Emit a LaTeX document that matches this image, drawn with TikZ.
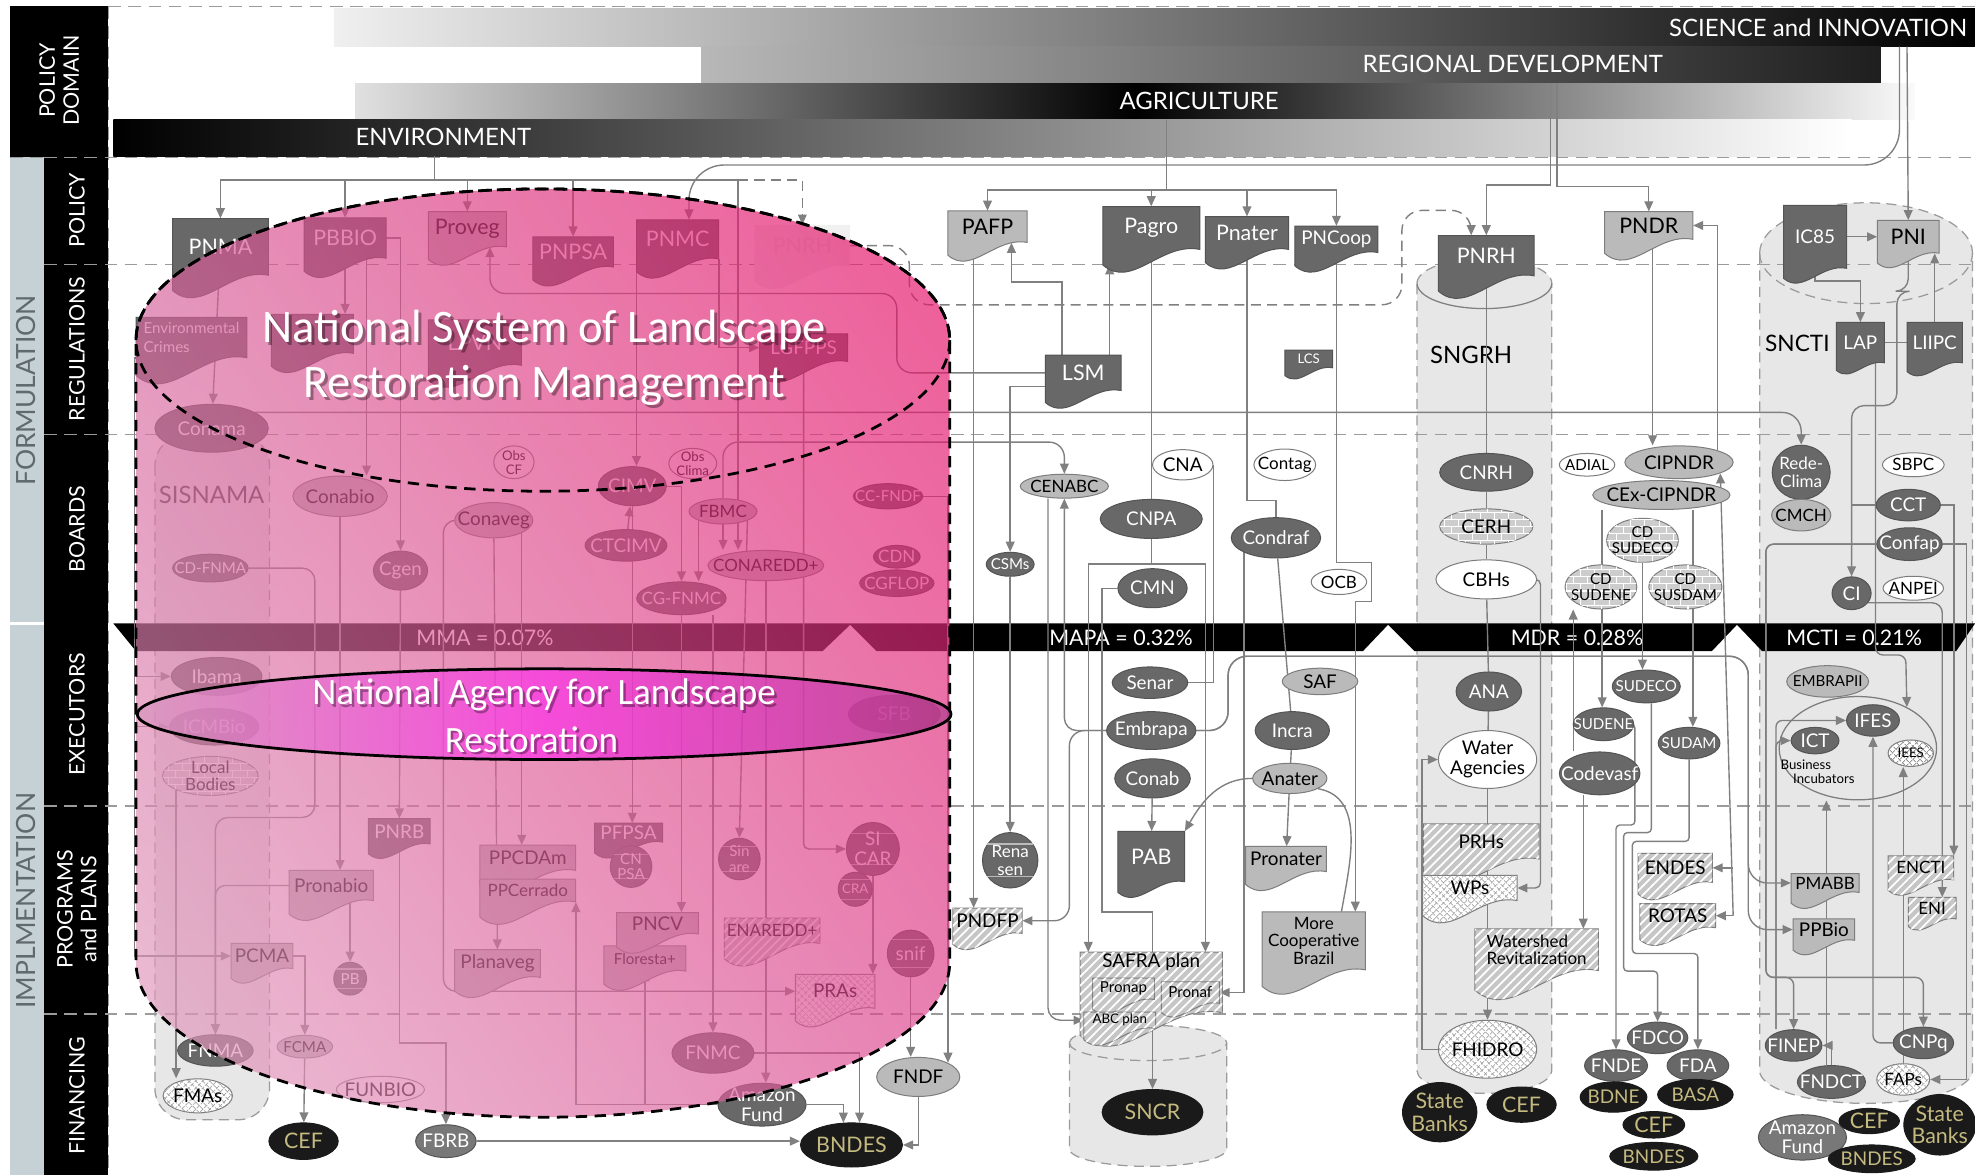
\documentclass[tikz,border=0pt]{standalone}
\usepackage{fontspec}
\setmainfont{Lato}
\newfontfamily\calib{Carlito}
\usetikzlibrary{arrows.meta,shapes.geometric,patterns,patterns.meta,shadings}
\definecolor{dkc}{RGB}{104,104,104}
\definecolor{dkb}{RGB}{84,84,84}
\definecolor{ltc}{RGB}{186,186,186}
\definecolor{ltb}{RGB}{125,125,125}
\definecolor{mdc}{RGB}{120,120,120}
\definecolor{bkc}{RGB}{26,26,26}
\definecolor{khk}{RGB}{196,186,128}
\definecolor{lnc}{RGB}{128,128,128}
\definecolor{cylc}{RGB}{231,231,231}
\definecolor{rowc}{RGB}{155,155,155}
\definecolor{stripc}{RGB}{197,209,213}
\definecolor{hatc}{RGB}{198,198,198}
\definecolor{chkc}{RGB}{150,150,150}
\definecolor{brkc}{RGB}{205,205,205}
\definecolor{txg}{RGB}{95,105,110}
\definecolor{pkUL}{RGB}{214,93,152}
\definecolor{pkUR}{RGB}{232,10,100}
\definecolor{pkLL}{RGB}{226,163,194}
\definecolor{pkLR}{RGB}{220,71,143}
\definecolor{agL}{RGB}{215,150,190}
\definecolor{agM}{RGB}{252,50,232}
\definecolor{agR}{RGB}{180,65,145}
\newcommand\fnA{\fontsize{15}{15.5}\selectfont}
\newcommand\fnB{\fontsize{17}{18}\selectfont}
\newcommand\fnM{\fontsize{13.5}{14}\selectfont}
\newcommand\fnS{\fontsize{12}{12.5}\selectfont}
\newcommand\fnT{\fontsize{10.5}{11}\selectfont}
\pgfdeclarelayer{bg}\pgfdeclarelayer{conn}\pgfdeclarelayer{over}
\pgfsetlayers{bg,conn,main,over}
\tikzset{
 lab/.style={inner sep=0pt,align=center,font=\fnA},
 tw/.style={text=white}, tb/.style={text=black}, tk/.style={text=khk},
 tfade/.style={text=black!12},
 sdk/.style={fill=dkc,draw=dkb,line width=0.8pt},
 slt/.style={fill=ltc,draw=ltb,line width=0.8pt},
 smd/.style={fill=mdc,draw=dkb,line width=0.8pt},
 swt/.style={fill=white,draw=ltb,line width=0.8pt},
 sbk/.style={fill=bkc,draw=bkc,line width=0.8pt},
 sfade/.style={fill=black!6},
 shat/.style={fill=hatc,draw=ltb,line width=0.8pt,postaction={pattern={Lines[angle=45,distance=5pt,line width=1.4pt]},pattern color=white}},
 schk/.style={fill=white,draw=ltb,line width=0.8pt,postaction={pattern={Lines[angle=45,distance=4pt,line width=0.7pt]},pattern color=chkc},postaction={pattern={Lines[angle=-45,distance=4pt,line width=0.7pt]},pattern color=chkc}},
 sbrk/.style={fill=brkc,draw=ltb,line width=0.8pt,postaction={pattern=bricks,pattern color=white}},
 ln/.style={draw=lnc,line width=1.1pt},
 arr/.style={ln,-{Triangle[length=8pt,width=7pt]}},
 darr/.style={arr,dash pattern=on 8pt off 5pt},
 rowl/.style={draw=rowc,line width=1pt,dash pattern=on 10pt off 6pt},
 cyl/.style={fill=cylc,draw=rowc,line width=1pt,dash pattern=on 8pt off 5pt},
 cline/.style={draw=white!55!dkc,line width=1pt},
 btxt/.style={text=white,font=\fontsize{19}{19}\selectfont,inner sep=0pt},
 rtxt/.style={rotate=90,text=white,font=\fontsize{17}{19}\selectfont,align=center,inner sep=0pt},
}
\newcommand\mkD[8]{%
 \path[#1] (#4-#6/2,#5-#7/2) -- (#4+#6/2,#5-#7/2) -- (#4+#6/2,#5+#7/2) .. controls (#4+#6*0.1,#5+#7/2-#6*0.08) and (#4-#6*0.2,#5+#7/2+#6*0.42) .. (#4-#6/2,#5+#7/2+#6*0.16) -- cycle;
 \node[inner sep=0pt,minimum width=#6,minimum height=#7] (#3) at (#4,#5) {};
 \node[lab,#2] at (#4,#5) {#8};}
\newcommand\mkE[7]{%
 \node[ellipse,inner sep=0pt,#1,minimum width=#5,minimum height=#6] (#3) at (#4) {};
 \node[lab,#2] at (#3.center) {#7};}
\newcommand\mkC[6]{%
 \node[circle,inner sep=0pt,#1,minimum size=#5] (#3) at (#4) {};
 \draw[cline] (#3.145) -- (#3.35) (#3.215) -- (#3.325);
 \node[lab,#2] at (#3.center) {#6};}
\newcommand\mkCyl[7]{%
 \path[#1] (#2-#3,#4) .. controls (#2-#3,#4-0.552*#5) and (#2-0.552*#3,#4-#5) .. (#2,#4-#5) .. controls (#2+0.552*#3,#4-#5) and (#2+#3,#4-0.552*#5) .. (#2+#3,#4) -- (#2+#3,#6) .. controls (#2+#3,#6+0.552*#7) and (#2+0.552*#3,#6+#7) .. (#2,#6+#7) .. controls (#2-0.552*#3,#6+#7) and (#2-#3,#6+0.552*#7) .. (#2-#3,#6) -- cycle;}
\newcommand\mkFront[5]{%
 \path[#1] (#2-#3,#4) .. controls (#2-#3,#4+0.552*#5) and (#2-0.552*#3,#4+#5) .. (#2,#4+#5) .. controls (#2+0.552*#3,#4+#5) and (#2+#3,#4+0.552*#5) .. (#2+#3,#4);}
\begin{document}
\begin{tikzpicture}[x=1pt,y=-1pt]
\useasboundingbox (0,0) rectangle (1568,933);
\begin{pgfonlayer}{bg}
\fill[white] (0,0) rectangle (1568,933);
\fill[stripc] (8,125) rectangle (35,933);
\fill[black] (8,5) rectangle (86,125);
\fill[black] (35,125) rectangle (86,933);
\draw[white,line width=2pt] (8,495) -- (35,495);
\shade[left color=black!6,right color=black] (265,7) rectangle (1568,37);
\shade[left color=black!28,right color=black!88] (557,37) rectangle (1493,66);
\shade[left color=black!12,right color=black!2,middle color=black] (282,66) rectangle (1520,95);
\shade[left color=black,right color=white] (90,95) rectangle (1470,124);
\node[btxt,anchor=east] at (1562,22) {SCIENCE and INNOVATION};
\node[btxt] at (1201,51) {REGIONAL DEVELOPMENT};
\node[btxt] at (952,80) {AGRICULTURE};
\node[btxt] at (352,109) {ENVIRONMENT};
\path[cyl,rounded corners=25] (123,345) rectangle (214,889);
\mkCyl{cyl}{1178.5}{53.5}{225}{20}{850}{18}
\mkFront{draw=lnc,line width=1pt}{1178.5}{53.5}{225}{20}
\mkCyl{cyl}{1481.5}{84.5}{201}{40}{850}{26}
\mkFront{draw=rowc,line width=1pt,dash pattern=on 8pt off 5pt}{1481.5}{84.5}{201}{40}
\mkCyl{cyl}{911.5}{62.5}{828}{14}{912}{14}
\mkFront{draw=rowc,line width=1pt,dash pattern=on 8pt off 5pt}{911.5}{62.5}{828}{14}
\foreach \yy in {125,210,345,640,805} \draw[rowl] (35,\yy) -- (1568,\yy);
\draw[rowl] (86,5) -- (1568,5);
\draw[rowl] (86,5) -- (86,933);
\draw[rowl] (8,125) -- (35,125);
\node[rtxt] at (47,64) {POLICY\\DOMAIN};
\node[rtxt] at (61,167) {POLICY};
\node[rtxt] at (61,277) {REGULATIONS};
\node[rtxt] at (61,420) {BOARDS};
\node[rtxt] at (61,567) {EXECUTORS};
\node[rtxt] at (61,722) {PROGRAMS\\and PLANS};
\node[rtxt] at (61,870) {FINANCING};
\node[rotate=90,text=txg,font=\fontsize{21}{21}\selectfont,inner sep=0pt] at (21,310) {FORMULATION};
\node[rotate=90,text=txg,font=\fontsize{21}{21}\selectfont,inner sep=0pt] at (21,715) {IMPLMENTATION};
\fill[black] (90,495) -- (1568,495) -- (1553,517) -- (1399,517) -- (1379,496) -- (1359,517) -- (1123,517) -- (1102,496) -- (1082,517) -- (696,517) -- (675,496) -- (653,517) -- (108,517) -- cycle;
\node[btxt,font=\fontsize{17}{17}\selectfont] at (385,506) {MMA = 0.07\%};
\node[btxt,font=\fontsize{17}{17}\selectfont] at (890,506) {MAPA = 0.32\%};
\node[btxt,font=\fontsize{17}{17}\selectfont] at (1252,506) {MDR = 0.28\%};
\node[btxt,font=\fontsize{17}{17}\selectfont] at (1472,506) {MCTI = 0.21\%};
\node[text=black!75,font=\fontsize{19}{19}\selectfont] at (168,393) {SISNAMA};
\node[text=black,font=\fontsize{19}{19}\selectfont] at (1168,282) {SNGRH};
\node[text=black,font=\fontsize{18}{18}\selectfont] at (1427,273) {SNCTI};
\end{pgfonlayer}
% policy
\mkD{sdk}{tw}{PNMA}{175}{196}{76}{45}{\fnB PNMA}
\mkD{sdk}{tw}{PBBIO}{274}{189}{65}{32}{\fnB PBBIO}
\mkD{slt}{tb}{Proveg}{371}{182}{62}{28}{\fnB Proveg}
\mkD{sdk}{tw}{PNPSA}{455}{200}{64}{24}{\fnB PNPSA}
\mkD{sdk}{tw}{PNMC}{538}{190}{65}{31}{\fnB PNMC}
\mkD{sfade}{tfade}{PNRHf}{637}{195}{76}{33}{\fnB PNRH}
\mkD{slt}{tb}{PAFP}{784}{180}{63}{25}{\fnB PAFP}
\mkD{sdk}{tw}{Pagro}{914}{181}{77}{34}{\fnB Pagro}
\mkD{sdk}{tw}{Pnater}{990}{185}{66}{26}{\fnB Pnater}
\mkD{sdk}{tw}{PNCoop}{1061}{190}{66}{21}{\fnA PNCoop}
\mkD{sdk}{tw}{PNRH}{1180}{203}{76}{32}{\fnB PNRH}
\mkD{slt}{tb}{PNDR}{1309}{179}{70}{22}{\fnB PNDR}
\mkD{sdk}{tw}{IC85}{1441}{188}{50}{50}{\fnA IC85}
\mkD{slt}{tb}{PNI}{1515}{188}{49}{26}{\fnB PNI}
% regulations
\mkD{sdk}{tw,align=left}{EnvCr}{152}{268}{88}{32}{\fnS Environmental\\\fnS Crimes}
\mkD{sdk}{tw}{Hid}{248}{265}{65}{31}{}
\mkD{sdk}{tw}{LPVN}{377}{272}{74}{36}{\fnB LPVN}
\mkD{sdk}{tw}{LGFPPS}{638}{276}{70}{22}{\fnA LGFPPS}
\mkD{sdk}{tw}{LSM}{860}{296}{60}{28}{\fnB LSM}
\mkD{sdk}{tw}{LCS}{1039}{285}{38}{14}{\fnT LCS}
\mkD{sdk}{tw}{LAP}{1477}{272}{38}{32}{\fnA LAP}
\mkD{sdk}{tw}{LIIPC}{1536}{272}{44}{32}{\fnA LIIPC}
% boards
\mkE{sdk}{tw}{Conama}{168,340}{90}{38}{Conama}
\mkE{slt}{tb}{Conabio}{270,394}{75}{32}{Conabio}
\mkE{swt}{tb,font=\fnT}{ObsCF}{408,367}{32}{26}{Obs\\CF}
\mkE{slt}{tb}{Conaveg}{392,413}{62}{28}{Conaveg}
\mkE{sdk}{tw}{CIMV}{502,386}{54}{31}{CIMV}
\mkE{swt}{tb,font=\fnT}{ObsClima}{550,368}{38}{24}{Obs\\Clima}
\mkE{slt}{tb,font=\fnM}{FBMC}{574,406}{54}{20}{FBMC}
\mkE{sdk}{tw}{CTCIMV}{497,433}{65}{25}{CTCIMV}
\mkE{slt}{tb,font=\fnM}{CONAREDD}{608,449}{92}{24}{CONAREDD+}
\mkE{sdk}{tw,font=\fnM}{CGFNMC}{541,475}{71}{26}{CG-FNMC}
\mkE{sdk}{tw,font=\fnS}{CCFNDF}{705,394}{55}{20}{CC-FNDF}
\mkE{sdk}{tw,font=\fnM}{CDN}{712,442}{37}{18}{CDN}
\mkE{sdk}{tw,font=\fnM}{CGFLOP}{712,463}{59}{21}{CGFLOP}
\mkE{sdk}{tw}{Cgen}{318,453}{43}{31}{Cgen}
\mkE{sdk}{tw,font=\fnS}{CDFNMA}{167,451}{60}{22}{CD-FNMA}
\mkE{slt}{tb,font=\fnM}{CENABC}{845,386}{70}{19}{CENABC}
\mkE{swt}{tb}{CNA}{939,369}{48}{24}{CNA}
\mkE{swt}{tb,font=\fnM}{Contag}{1020,369}{49}{25}{Contag}
\mkE{sdk}{tw}{CNPA}{914,412}{81}{31}{CNPA}
\mkE{sdk}{tw}{Condraf}{1013,427}{71}{32}{Condraf}
\mkE{sdk}{tw,font=\fnS}{CSMs}{802,448}{38}{19}{CSMs}
\mkE{sdk}{tw}{CMN}{915,467}{55}{31}{CMN}
\mkE{swt}{tb,font=\fnM}{OCB}{1063,462}{44}{20}{OCB}
\mkE{sdk}{tw}{CNRH}{1180,375}{74}{30}{CNRH}
\mkE{sbrk}{tb}{CERH}{1180,418}{74}{28}{CERH}
\mkE{swt}{tb}{CBHs}{1180,460}{80}{31}{CBHs}
\mkE{swt}{tb,font=\fnS}{ADIAL}{1260,369}{44}{18}{ADIAL}
\mkE{slt}{tb}{CIPNDR}{1333,367}{86}{26}{CIPNDR}
\mkE{slt}{tb}{CExCIPNDR}{1319,393}{109}{23}{CEx-CIPNDR}
\mkE{sbrk}{tb,font=\fnS}{CDSUDECO}{1304,429}{57}{35}{CD\\SUDECO}
\mkE{sbrk}{tb,font=\fnS}{CDSUDENE}{1271,466}{57}{35}{CD\\SUDENE}
\mkE{sbrk}{tb,font=\fnS}{CDSUSDAM}{1338,466}{58}{35}{CD\\SUSDAM}
\mkE{sdk}{tw,font=\fnM}{RedeClima}{1430,375}{46}{43}{Rede-\\Clima}
\mkE{slt}{tb,font=\fnM}{CMCH}{1430,409}{47}{25}{CMCH}
\mkE{swt}{tb,font=\fnM}{SBPC}{1519,369}{49}{19}{SBPC}
\mkE{sdk}{tw}{CCT}{1515,401}{51}{25}{CCT}
\mkE{sdk}{tw}{Confap}{1516,432}{52}{26}{Confap}
\mkE{sdk}{tw}{CI}{1470,471}{31}{26}{CI}
\mkE{swt}{tb,font=\fnM}{ANPEI}{1519,467}{48}{19}{ANPEI}
% executors
\mkE{sdk}{tw}{Ibama}{172,537}{72}{30}{Ibama}
\mkE{sdk}{tw}{ICMBio}{170,577}{71}{29}{ICMBio}
\mkE{sbrk}{tb,font=\fnM}{LocalB}{167,616}{76}{31}{Local\\Bodies}
\mkE{sdk}{tw}{SFB}{710,567}{73}{30}{SFB}
\mkE{sdk}{tw}{Senar}{913,542}{60}{25}{Senar}
\mkE{sdk}{tw}{Embrapa}{914,580}{71}{30}{Embrapa}
\mkE{sdk}{tw}{Conab}{915,618}{60}{31}{Conab}
\mkE{slt}{tb}{SAF}{1048,541}{60}{21}{SAF}
\mkE{sdk}{tw}{Incra}{1026,580}{59}{30}{Incra}
\mkE{slt}{tb}{Anater}{1024,618}{59}{24}{Anater}
\mkE{sdk}{tw}{ANA}{1182,549}{52}{31}{ANA}
\mkE{swt}{tb}{WaterAg}{1181,603}{78}{46}{Water\\Agencies}
\mkE{sdk}{tw,font=\fnS}{SUDECO}{1307,545}{54}{26}{SUDECO}
\mkE{sdk}{tw,font=\fnS}{SUDENE}{1273,575}{48}{26}{SUDENE}
\mkE{sdk}{tw,font=\fnS}{SUDAM}{1341,590}{49}{25}{SUDAM}
\mkE{sdk}{tw}{Codevasf}{1270,614}{64}{34}{Codevasf}
\mkE{slt}{tb,font=\fnS}{EMBRAPII}{1451,541}{65}{25}{EMBRAPII}
\node[ellipse,draw=ltb,line width=1pt,minimum width=125,minimum height=82,inner sep=0pt] (Incub) at (1475,594) {};
\mkE{sdk}{tw}{ICT}{1441,588}{38}{21}{ICT}
\mkE{sdk}{tw}{IFES}{1487,572}{42}{25}{IFES}
\mkE{schk}{tb,font=\fnT}{IEES}{1517,598}{36}{21}{IEES}
\node[lab,tb,font=\fnT,align=left] (BusInc) at (1443,613) {Business\\\hspace*{10pt}Incubators};
% programs and plans
\mkD{sdk}{tw}{PNRB}{317}{660}{49}{20}{PNRB}
\mkD{slt}{tb}{Pronabio}{263}{703}{67}{24}{Pronabio}
\mkD{slt}{tb}{PCMA}{208}{759}{49}{20}{PCMA}
\mkC{sdk}{tw,font=\fnS}{PB}{278,777}{26}{PB}
\mkD{slt}{tb}{Planaveg}{395}{765}{68}{22}{Planaveg}
\mkD{slt}{tb}{PPCDAm}{419}{681}{76}{20}{PPCDAm}
\mkD{slt}{tb,font=\fnM}{PPCerrado}{419}{707}{76}{18}{PPCerrado}
\mkD{sdk}{tw}{PFPSA}{499}{661}{54}{15}{PFPSA}
\mkC{sdk}{tw,font=\fnS}{CNPSA}{501,688}{33}{CN\\PSA}
\mkD{slt}{tb,font=\fnS}{Floresta}{512}{761}{65}{20}{Floresta+}
\mkD{slt}{tb}{PNCV}{522}{733}{65}{17}{PNCV}
\mkC{sdk}{tw,font=\fnS}{Sinare}{587,682}{33}{Sin\\are}
\mkD{shat}{tb,font=\fnM}{ENAREDD}{613}{739}{76}{20}{ENAREDD+}
\mkC{sdk}{tw}{SICAR}{693,674}{42}{SI\\CAR}
\mkC{sdk}{tw,font=\fnT}{CRA}{679,706}{27}{CRA}
\mkC{sdk}{tw}{snif}{723,757}{37}{snif}
\mkD{schk}{tb}{PRAs}{663}{787}{63}{27}{PRAs}
\mkD{shat}{tb}{PNDFP}{784}{731}{55}{20}{PNDFP}
\mkC{sdk}{tw,font=\fnM}{Renasen}{802,683}{44}{Rena\\sen}
\mkD{sdk}{tw}{PAB}{914}{680}{53}{40}{\fnB PAB}
\mkD{slt}{tb}{Pronater}{1021}{682}{64}{20}{Pronater}
\mkD{slt}{tb,font=\fnM}{MoreCoop}{1043}{747}{82}{46}{More\\Cooperative\\Brazil}
\mkD{shat}{tb}{SAFRA}{914}{780}{113}{48}{}
\node[lab,tb] at (914,764) {SAFRA plan};
\mkD{shat}{tb,font=\fnS}{Pronap}{892}{785}{49}{17}{Pronap}
\mkD{shat}{tb,font=\fnS}{Pronaf}{945}{788}{46}{17}{Pronaf}
\mkD{shat}{tb,font=\fnT}{ABC}{889}{810}{57}{13}{ABC plan}
\mkD{shat}{tb}{PRHs}{1176}{668}{92}{28}{PRHs}
\mkD{schk}{tb}{WPs}{1167}{705}{75}{20}{WPs}
\mkD{shat}{tb,font=\fnM,align=left}{Watershed}{1220}{754}{98}{33}{Watershed\\Revitalization}
\mkD{shat}{tb}{ENDES}{1330}{689}{59}{23}{ENDES}
\mkD{shat}{tb}{ROTAS}{1332}{727}{60}{19}{ROTAS}
\mkD{slt}{tb,font=\fnM}{PMABB}{1449}{701}{54}{15}{PMABB}
\mkD{slt}{tb}{PPBio}{1448}{738}{49}{17}{PPBio}
\mkD{shat}{tb,font=\fnM}{ENCTI}{1525}{689}{52}{19}{ENCTI}
\mkD{shat}{tb,font=\fnM}{ENI}{1534}{721}{38}{17}{ENI}
% financing
\mkE{sdk}{tw}{FNMA}{171,834}{60}{25}{FNMA}
\mkE{schk}{tb}{FMAs}{157,870}{55}{27}{FMAs}
\mkE{slt}{tb,font=\fnS}{FCMA}{242,831}{44}{18}{FCMA}
\mkE{swt}{tb}{FUNBIO}{302,865}{70}{21}{FUNBIO}
\mkE{sbk}{tk,font=\fnB}{CEFa}{241,906}{55}{29}{CEF}
\mkE{smd}{tw}{FBRB}{354,906}{48}{26}{FBRB}
\mkE{sdk}{tw}{FNMC}{566,836}{65}{32}{FNMC}
\mkE{sdk}{tw}{AmazonF}{605,877}{70}{34}{Amazon\\Fund}
\mkE{slt}{tb}{FNDF}{729,855}{66}{31}{FNDF}
\mkE{sbk}{tk,font=\fnB}{BNDESa}{676,909}{81}{35}{BNDES}
\mkE{sbk}{tk,font=\fnB}{SNCR}{915,883}{80}{36}{SNCR}
\mkE{schk}{tb}{FHIDRO}{1181,833}{78}{46}{FHIDRO}
\mkE{sbk}{tk,font=\fnB}{StateBa}{1143,883}{59}{47}{State\\Banks}
\mkE{sbk}{tk,font=\fnB}{CEFb}{1208,877}{55}{28}{CEF}
\mkE{sdk}{tw}{FDCO}{1316,824}{48}{25}{FDCO}
\mkE{sdk}{tw}{FNDE}{1283,846}{50}{25}{FNDE}
\mkE{sdk}{tw}{FDA}{1348,846}{49}{25}{FDA}
\mkE{sbk}{tk}{BDNE}{1281,871}{53}{24}{BDNE}
\mkE{sbk}{tk}{BASA}{1346,869}{60}{24}{BASA}
\mkE{sbk}{tk,font=\fnB}{CEFc}{1313,893}{49}{21}{CEF}
\mkE{sbk}{tk}{BNDESb}{1313,918}{70}{22}{BNDES}
\mkE{sdk}{tw}{FINEP}{1424,830}{45}{25}{FINEP}
\mkE{sdk}{tw}{FNDCT}{1454,859}{54}{26}{FNDCT}
\mkE{sdk}{tw}{CNPq}{1527,828}{48}{25}{CNPq}
\mkE{schk}{tb,font=\fnM}{FAPs}{1511,857}{42}{25}{FAPs}
\mkE{smd}{tw}{AmazonFb}{1431,903}{70}{36}{Amazon\\Fund}
\mkE{sbk}{tk,font=\fnB}{CEFd}{1484,890}{48}{20}{CEF}
\mkE{sbk}{tk,font=\fnB}{StateBb}{1540,893}{57}{48}{State\\Banks}
\mkE{sbk}{tk}{BNDESc}{1486,920}{69}{22}{BNDES}
\begin{pgfonlayer}{conn}
\coordinate (ENVb) at (345,124);
\coordinate (AGRb) at (926,95);
\coordinate (REGa) at (1231,66);
\coordinate (REGb) at (1236,66);
\coordinate (SCIa) at (1514,37);
\coordinate (SCIb) at (1508,37);
\coordinate (envD) at (586,143);
\foreach \nn in {PNMA,PBBIO,Proveg,PNPSA} \draw[arr] (ENVb) -- ++(0,19) -| (\nn.north);
\draw[ln] (ENVb) -- ++(0,19) -- (envD);
\draw[darr] (envD) -| (PNRHf.north);
\draw[arr] (envD) -- (586,0 |- CONAREDD.north);
\foreach \nn in {PAFP,Pagro,Pnater,PNCoop} \draw[arr] (AGRb) -- ++(0,56) -| (\nn.north);
\draw[arr] (REGa) -- ++(0,81) -| (PNRH.north);
\draw[arr] (REGb) -- ++(0,82) -| (PNDR.north);
\draw[arr] (SCIa) -- (PNI.north);
\draw[arr,rounded corners=28] (SCIb) -- (1508,131) -- (547,131) -- (547,0 |- PNMC.north);
\draw[darr,rounded corners=16] (PNRHf.east) -- (722,195) -- (722,242) -- (1113,242) -- (1113,167) -- (1168,167) -- (1168,0 |- PNRH.north);
\draw[arr] (PNMA) -- (Conama);
\draw[arr] (PBBIO.south) -- (PBBIO.south |- Hid.north);
\draw[arr] (291,0 |- PBBIO.south) -- (291,0 |- Conabio.north);
\draw[arr] (PBBIO.east) -| (Cgen.north);
\draw[arr] (Conabio.south) -- (Conabio.south |- Pronabio.north);
\draw[arr] (Cgen) -- (PNRB);
\draw[arr] (PNRB.south) -- ++(0,158) -| (FBRB.north);
\draw[arr] (PB.north |- Pronabio.south) -- (PB.north);
\draw[arr,rounded corners=8] (Pronabio.west) -| (FNMA.north);
\draw[arr,rounded corners=10] (CDFNMA.east) -| (250,649) -| (FNMA.north);
\draw[arr] (EnvCr.south west) -- ++(-1,0) |- (PCMA.west);
\draw[arr] (Ibama.west -| EnvCr.south west) -- (Ibama.west);
\draw[arr] (ICMBio.west -| EnvCr.south west) -- (ICMBio.west);
\draw[arr] (LocalB.south west) -- (LocalB.south west |- FMAs.north);
\draw[arr] (PCMA.east) -| (FCMA.north);
\draw[arr] (FCMA) -- (CEFa);
\draw[arr] (FBRB.east) -- (FBRB.east -| BNDESa.west);
\draw[arr] (Conaveg) -- (Planaveg);
\draw[arr,rounded corners=10] (Conaveg.west) -| (352,787) -- (PRAs.west);
\draw[arr] (Conaveg.south east) -- (Conaveg.south east |- PPCDAm.north);
\draw[arr] (AmazonF.west) -| (PPCerrado.south east);
\draw[arr] (AmazonF.west) -| (Floresta.south);
\draw[arr] (FNMC.east) -| (BNDESa.70);
\draw[arr] (AmazonF.east) -| (BNDESa.110);
\draw[arr] (FNDF.south) |- (BNDESa.east);
\draw[arr] (snif) -- (snif |- FNDF.north);
\draw[arr] (CCFNDF.east) -| (FNDF.north east);
\draw[arr] (SICAR.south) -- (SICAR.south |- PRAs.north);
\draw[arr,rounded corners=4] (LGFPPS.south) |- (SICAR.west);
\draw[arr] (FBMC.south east) -- (Sinare.north);
\draw[arr] (CONAREDD.south) -- (CONAREDD.south |- AmazonF.north);
\draw[arr] (FNMC.north |- CGFNMC.south) -- (FNMC.north);
\draw[arr] (CIMV.south) -- (CIMV.south |- PFPSA.north);
\draw[arr] (CGFNMC) -- (CGFNMC |- PNCV.north);
\draw[arr] (CTCIMV) -- (CIMV);
\draw[arr] (CIMV.east) -| (CGFNMC.north);
\draw[arr] (FBMC.south west) -- (FBMC.south west |- CGFNMC.north);
\draw[arr] (FBMC) -- (FBMC |- CONAREDD.north);
\draw[arr] (PNMC.south west) -- (PNMC.south west |- CIMV.north);
\draw[arr] (PNMC.south east) |- (LGFPPS.west);
\draw[arr,rounded corners=15] (Conama.20) -| (RedeClima.north);
\draw[arr,rounded corners=12] (FBMC.north) |- (CENABC.north |- 0,351) -- (CENABC.north);
\draw[arr] (881,0 |- LSM.north) -- ++(0,-72);
\draw[arr] (843,0 |- LSM.north) |- (803,224) -- (803,0 |- PAFP.south);
\draw[arr,rounded corners=12] (LSM.west) -| (712,233) -| (389,0 |- Proveg.south);
\draw[arr] (LSM.200) -| (CSMs.north);
\draw[arr] (CSMs) -- (Renasen);
\draw[arr] (773,0 |- PAFP.south) -- (773,0 |- PNDFP.north);
\draw[ln] (Pagro.south) -- (CNPA.north);
\draw[ln] (Pnater.south) -- ++(0,199) -| (Condraf.north);
\draw[arr] (PNCoop.south) -- ++(0,246) -- ++(28,0) -- ++(0,31) -- ++(-13,0) -- (1076,0 |- MoreCoop.north);
\draw[ln] (CNA.east) |- (Senar.east);
\draw[arr] (CNPA.south) -- ++(0,20) -| (864,0 |- SAFRA.north);
\draw[arr] (CNPA.south) -- ++(0,20) -| (957,0 |- SAFRA.north);
\draw[arr] (CMN.west) -| (875,724) -| (SNCR.north);
\draw[arr] (Conab) -- (PAB);
\draw[arr,rounded corners=10] (Embrapa.west) -| (CENABC.south);
\draw[arr,rounded corners=10] (832,0 |- CENABC.south) |- (ABC.west);
\draw[arr,rounded corners=12] (Embrapa.west) -| (849,731) -- (PNDFP.east);
\draw[arr,rounded corners=15] (Embrapa.east) -| (975,521) -- (1388,521) |- (PMABB.west);
\draw[arr,rounded corners=15] (Embrapa.east) -| (975,521) -- (1388,521) |- (PPBio.west);
\draw[arr] (Anater.west) to[out=180,in=60] (PAB.north east);
\draw[ln] (Anater.-20) to[out=-10,in=80] ([xshift=22pt]MoreCoop.north);
\draw[arr] (Anater) -- (Pronater);
\draw[ln] (Condraf) -- (Incra);
\draw[ln] (Incra) -- (Anater);
\draw[arr] (Condraf.south west) |- (Pronaf.east);
\draw[ln] (PNRH) -- (CNRH);
\draw[ln] (CNRH) -- (CERH);
\draw[ln] (CERH) -- (CBHs);
\draw[ln] (CBHs) -- (ANA);
\draw[ln] (ANA) -- (WaterAg);
\draw[arr] (WaterAg) -- (WaterAg |- FHIDRO.north);
\draw[arr] (FHIDRO.west) -| (1129,0 |- WaterAg.west) -- (WaterAg.west);
\draw[arr,rounded corners=4] (CBHs.east) -| (1223,0 |- WPs.east) -- (WPs.east);
\draw[arr] (1257,0 |- Codevasf.south) -- (1257,0 |- Watershed.north);
\draw[arr] (1249,0 |- Codevasf.north) -- (1249,0 |- CDSUDENE.south);
\draw[arr] (1312,0 |- PNDR.south) -- (1312,0 |- CIPNDR.north);
\draw[arr] (CIPNDR.north east) |- (PNDR.east);
\draw[arr] (1376,0 |- ROTAS.east) -- (CIPNDR.-15);
\draw[arr] (1376,0 |- ENDES.east) -- (ENDES.east);
\draw[arr] (1376,0 |- ROTAS.east) -- (ROTAS.east);
\draw[arr] (1272,0 |- CExCIPNDR.south) -- (1272,0 |- SUDENE.north);
\draw[arr] (CDSUDECO) -- (CDSUDECO |- SUDECO.north);
\draw[arr] (1344,0 |- CExCIPNDR.south) -- (1344,0 |- SUDAM.north);
\draw[arr,rounded corners=3] (SUDENE.east) -| (1298,655) -| (FNDE.north);
\draw[arr,rounded corners=3] (1311,0 |- SUDECO.south) |- (1289,661) |- (1316,771) -- (FDCO.north);
\draw[arr,rounded corners=3] (SUDAM.south) |- (1296,668) |- (1348,757) -- (FDA.north);
\draw[arr] (IC85.east) -- (IC85.east -| PNI.west);
\draw[arr] (IC85.south) -- ++(0,10) -| (LAP.north);
\draw[arr] (LIIPC.north) -- (LIIPC.north |- PNI.south);
\draw[ln] (LAP.east) -- (LIIPC.west);
\draw[arr,rounded corners=10] (PNI.south) -- ++(0,30) -| (1506,322) -| (CI.north);
\draw[ln] (CCT.west) -- (CCT.west -| CI.north);
\draw[arr,rounded corners=6] (1489,0 |- LAP.south) |- (1513,520) -- (Incub.40);
\draw[arr] (CCT.east) -| (ENCTI.north east);
\draw[arr,rounded corners=8] (CI.-30) -| (1542,0 |- ENI.north);
\draw[arr] (Confap.east) -| (1561,857) -- (FAPs.east);
\draw[arr,rounded corners=6] (Confap.west) -| (1402,776) -| (FINEP.north);
\draw[arr,rounded corners=6] (Confap.west) -| (1402,776) -| (CNPq.north);
\draw[arr] (FNDCT.north) |- (FINEP.east);
\draw[arr,rounded corners=6] (CNPq.west) -| (IFES.south);
\draw[arr,rounded corners=5] (1410,0 |- FINEP.north) |- (ICT.west);
\draw[arr,rounded corners=5] (1410,0 |- FINEP.north) |- (IFES.west);
\draw[arr] (1450,0 |- FNDCT.north) -- (1450,0 |- Incub.south);
\draw[arr] (FAPs.north) -- (FAPs.north |- IEES.south);
\end{pgfonlayer}
\begin{pgfonlayer}{over}
\shade[upper left=pkUL,upper right=pkUR,lower left=pkLL,lower right=pkLR,fill opacity=0.67]
 (108,270) .. controls (108,203.76) and (252.7,150) .. (431,150) .. controls (609.3,150) and (754,203.76) .. (754,270) -- (754,764) .. controls (754,831.9) and (609.3,887) .. (431,887) .. controls (252.7,887) and (108,831.9) .. (108,764) -- cycle;
\draw[black,line width=2.2pt,dash pattern=on 9pt off 6pt]
 (108,270) .. controls (108,203.76) and (252.7,150) .. (431,150) .. controls (609.3,150) and (754,203.76) .. (754,270) -- (754,764) .. controls (754,831.9) and (609.3,887) .. (431,887) .. controls (252.7,887) and (108,831.9) .. (108,764) -- cycle;
\draw[black,line width=2.2pt,dash pattern=on 9pt off 6pt] (431,270) ellipse [x radius=323,y radius=120];
\shade[left color=agL,right color=agR,middle color=agM,fill opacity=0.72] (432,567) ellipse [x radius=323,y radius=36];
\draw[black,line width=2.2pt] (432,567) ellipse [x radius=323,y radius=36];
\node[text=black,opacity=0.35,font=\calib\fontsize{37}{37}\selectfont] at (434.5,264.5) {National System of Landscape};
\node[text=black,opacity=0.35,font=\calib\fontsize{37}{37}\selectfont] at (434.5,308.5) {Restoration Management};
\node[text=white,font=\calib\fontsize{37}{37}\selectfont] at (432,262) {National System of Landscape};
\node[text=white,font=\calib\fontsize{37}{37}\selectfont] at (432,306) {Restoration Management};
\node[text=black,opacity=0.35,font=\calib\fontsize{29.5}{29.5}\selectfont] at (434,554) {National Agency for Landscape};
\node[text=black,opacity=0.35,font=\calib\fontsize{29.5}{29.5}\selectfont] at (424,589) {Restoration};
\node[text=white,font=\calib\fontsize{29.5}{29.5}\selectfont] at (432,552) {National Agency for Landscape};
\node[text=white,font=\calib\fontsize{29.5}{29.5}\selectfont] at (422,587) {Restoration};
\end{pgfonlayer}
\end{tikzpicture}
\end{document}
